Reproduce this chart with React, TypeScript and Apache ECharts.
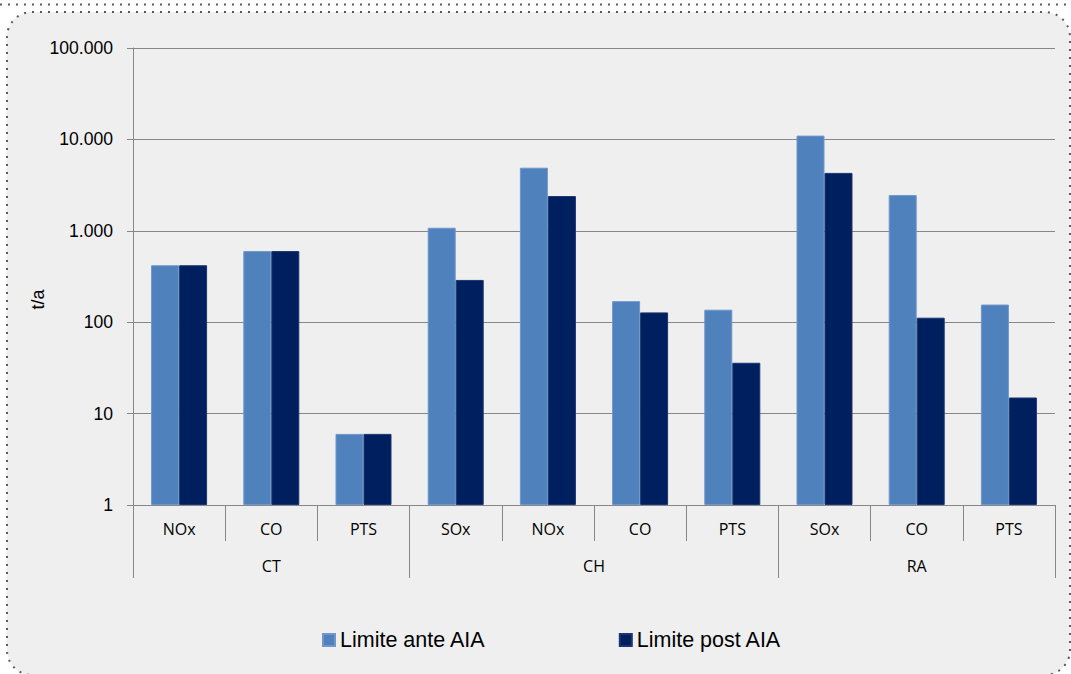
import React, { useEffect, useRef } from "react";
import * as echarts from "echarts";

const groups = ["CT", "CH", "RA"];
const groupSizes = [3, 4, 3];
const pollutants = ["NOx", "CO", "PTS", "SOx", "NOx", "CO", "PTS", "SOx", "CO", "PTS"];
const seriesNames = ["Limite ante AIA", "Limite post AIA"];
const anteValues = [420, 600, 6, 1080, 4900, 170, 137, 11000, 2460, 156];
const postValues = [420, 600, 6, 290, 2400, 128, 36, 4300, 112, 15];
const yMin = 1;
const yMax = 100000;

const AXIS_GRAY = "#878787";

function fmtThousands(v: number): string {
  return String(Math.round(v)).replace(/\B(?=(\d{3})+(?!\d))/g, ".");
}

export default function App() {
  const ref = useRef<HTMLDivElement>(null);

  useEffect(() => {
    if (!ref.current) return;
    const chart = echarts.init(ref.current, null, { renderer: "svg" });

    // group boundaries and centres on a 0..N value scale
    const bounds: number[] = [0];
    groupSizes.forEach((s) => bounds.push(bounds[bounds.length - 1] + s));
    const centers = groupSizes.map((s, i) => bounds[i] + s / 2);

    chart.setOption({
      animation: false,
      backgroundColor: "#ffffff",
      graphic: [
        {
          type: "line",
          z: -2,
          shape: { x1: 0, y1: 4.5, x2: 1071, y2: 4.5 },
          style: { stroke: "#5a5a5a", lineWidth: 2, lineDash: [2, 6] },
        },
        {
          type: "rect",
          z: -1,
          shape: { x: 7, y: 12, width: 1063, height: 663, r: 25 },
          style: { fill: "#efefef", stroke: "#5a5a5a", lineWidth: 2, lineDash: [2, 6] },
        },
      ],
      grid: { left: 133, right: 16, top: 48, bottom: 169 },
      legend: {
        data: seriesNames,
        left: 317,
        top: 624,
        icon: "rect",
        itemWidth: 12,
        itemHeight: 12,
        itemGap: 133,
        textStyle: { fontFamily: "Liberation Sans", fontSize: 21.5, color: "#000" },
      },
      xAxis: [
        {
          type: "category",
          data: pollutants,
          position: "bottom",
          axisLine: { show: true, lineStyle: { color: AXIS_GRAY, width: 1 } },
          axisTick: { show: true, length: 36, lineStyle: { color: AXIS_GRAY, width: 1 } },
          axisLabel: {
            interval: 0,
            margin: 16,
            fontFamily: "Open Sans",
            fontSize: 16,
            color: "#000",
          },
          splitLine: { show: false },
        },
        {
          type: "value",
          min: 0,
          max: pollutants.length,
          position: "bottom",
          axisLine: { show: false },
          axisTick: {
            show: true,
            length: 73,
            customValues: bounds,
            lineStyle: { color: AXIS_GRAY, width: 1 },
          },
          axisLabel: {
            show: true,
            customValues: centers,
            margin: 53,
            fontFamily: "Open Sans",
            fontSize: 16,
            color: "#000",
            formatter: (v: number) => {
              const i = centers.findIndex((c) => Math.abs(c - v) < 1e-6);
              return i >= 0 ? groups[i] : "";
            },
          },
          splitLine: { show: false },
        },
      ],
      yAxis: {
        type: "log",
        logBase: 10,
        min: yMin,
        max: yMax,
        name: "t/a",
        nameLocation: "middle",
        nameRotate: 90,
        nameGap: 86,
        nameMoveOverlap: false,
        nameTextStyle: {
          fontFamily: "Liberation Sans",
          fontSize: 18,
          color: "#000",
          padding: [0, 46, 0, 0],
        },
        axisLine: { show: true, lineStyle: { color: AXIS_GRAY, width: 1 } },
        axisTick: { show: true, length: 6, lineStyle: { color: AXIS_GRAY, width: 1 } },
        axisLabel: {
          margin: 20,
          fontFamily: "Liberation Sans",
          fontSize: 17.6,
          color: "#000",
          formatter: (v: number) => fmtThousands(v),
        },
        splitLine: { show: true, lineStyle: { color: AXIS_GRAY, width: 1 } },
        minorTick: { show: false },
      },
      series: [
        {
          name: seriesNames[0],
          type: "bar",
          xAxisIndex: 0,
          data: anteValues,
          barWidth: 28,
          barGap: "0%",
          itemStyle: { color: "#4f81bd", borderColor: "#6f97cb", borderWidth: 1 },
        },
        {
          name: seriesNames[1],
          type: "bar",
          xAxisIndex: 0,
          data: postValues,
          barWidth: 28,
          barGap: "0%",
          itemStyle: { color: "#001f5f", borderColor: "#1a3570", borderWidth: 1 },
        },
      ],
    });

    return () => chart.dispose();
  }, []);

  return (
    <div
      ref={ref}
      style={{ position: "fixed", left: 0, top: 0, width: 1071, height: 674 }}
    />
  );
}
